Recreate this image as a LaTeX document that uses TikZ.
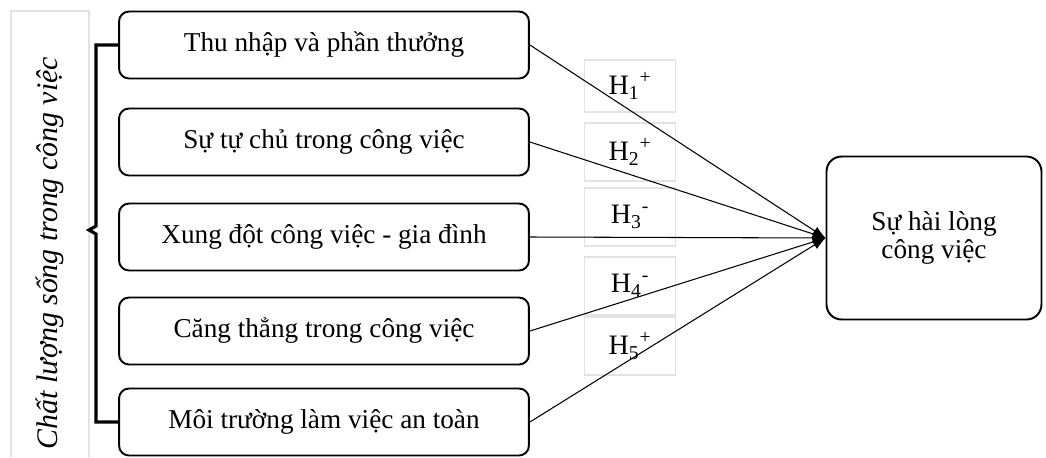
\documentclass[tikz,border=0pt]{standalone}
\usepackage{fontspec}
\setmainfont{Liberation Serif}
\usetikzlibrary{positioning}
\usetikzlibrary{arrows.meta}

\tikzset{
  factor/.style={draw, line width=1.1pt, rounded corners=0.2cm,
    minimum width=8.2cm, minimum height=1.34cm,
    font=\fontsize{15.5}{19}\selectfont},
  hyp/.style={draw=gray!22, line width=0.6pt, minimum width=1.82cm,
    minimum height=1.16cm, font=\fontsize{16}{19}\selectfont},
  link/.style={-{Latex[length=2.6mm, width=1.9mm]}, line width=0.6pt},
  bracket/.style={line width=1.8pt},
}

\begin{document}
\begin{tikzpicture}[x=0.02cm, y=-0.02cm]
\useasboundingbox (0,0) rectangle (1046,457);

% frame around the group title
\draw[gray!22, line width=0.6pt] (11,457) -- (11,11) -- (89,11) -- (89,457);
\node[rotate=90, font=\itshape\fontsize{17}{20}\selectfont] (group) at (50,253)
  {Chất lượng sống trong công việc};

% factors
\node[factor] (f1) at (324,45) {Thu nhập và phần thưởng};
\node[factor] (f2) at (324,142) {Sự tự chủ trong công việc};
\node[factor] (f3) at (324,237) {Xung đột công việc - gia đình};
\node[factor] (f4) at (324,331) {Căng thẳng trong công việc};
\node[factor] (f5) at (324,422) {Môi trường làm việc an toàn};

\node[factor, minimum width=4.3cm, minimum height=3.26cm, rounded corners=0.3cm,
  align=center, font=\fontsize{15.5}{16}\selectfont] (sat) at (934,238) {Sự hài lòng\\công việc};

% hypotheses
\node[hyp, minimum height=1.04cm] (h1) at (630,86) {H\textsubscript{1}\textsuperscript{+}};
\node[hyp] (h2) at (630,152) {H\textsubscript{2}\textsuperscript{+}};
\node[hyp] (h3) at (630,217) {H\textsubscript{3}\textsuperscript{-}};
\node[hyp] (h4) at (630,286) {H\textsubscript{4}\textsuperscript{-}};
\node[hyp] (h5) at (630,346) {H\textsubscript{5}\textsuperscript{+}};

% brace
\draw[bracket] (f1.west) -| (96,226) -- (89,230) -- (96,234) |- (f5.west);

% paths
\foreach \f in {f1,f2,f3,f4,f5}
  \draw[link] (\f.east) -- (sat.west);
\end{tikzpicture}
\end{document}
